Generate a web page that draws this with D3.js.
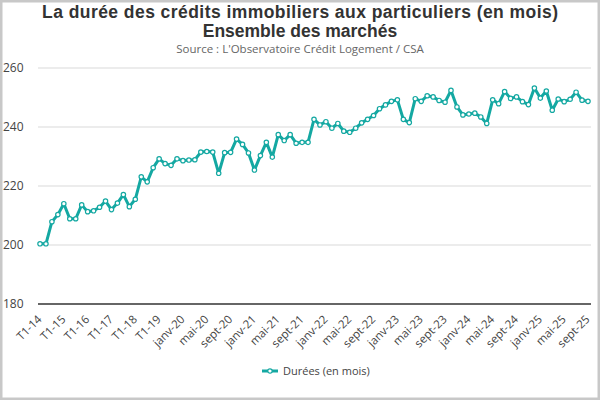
<!DOCTYPE html>
<html>
<head>
<meta charset="utf-8">
<script src="https://cdn.jsdelivr.net/npm/d3@7"></script>
<style>
  body { margin: 0; background: #fff; }
  svg { display: block; font-family: "Open Sans", "Noto Sans", sans-serif; }
</style>
</head>
<body>
<div id="chart"></div>
<script>
// Quarterly points 2014-2019, then monthly from janv-20
const quarters = [];
["14", "15", "16", "17", "18", "19"].forEach(y => {
    for (let q = 1; q <= 4; q++) quarters.push("T" + q + "-" + y);
});
const monthNames = ["janv", "févr", "mars", "avr", "mai", "juin", "juil", "août", "sept", "oct", "nov", "déc"];
const months = [];
["20", "21", "22", "23", "24", "25"].forEach(y => {
    monthNames.forEach((m, i) => {
        if (y === "25" && i > 8) return;
        months.push(m + "-" + y);
    });
});
const categories = quarters.concat(months);

const durees = [
    200.4, 200.4, 207.9, 210.3, 214.0, 208.9, 208.9, 213.6, 211.3, 211.6,
    212.8, 214.9, 212.0, 214.2, 217.1, 213.0, 215.5, 223.1, 221.4, 226.2,
    229.2, 227.6, 227.0, 229.2, 228.6, 228.8, 228.9, 231.5, 231.7, 231.5,
    224.3, 231.3, 231.4, 235.9, 234.1, 231.2, 225.4, 230.3, 234.8, 229.8,
    237.4, 235.4, 237.4, 234.5, 234.8, 234.8, 242.6, 240.7, 241.8, 239.6,
    241.2, 238.6, 238.2, 239.6, 241.4, 242.6, 243.9, 246.2, 247.5, 248.7,
    249.2, 242.6, 241.5, 249.6, 248.7, 250.6, 250.2, 249.0, 248.4, 252.4,
    246.8, 244.1, 244.4, 244.7, 243.4, 241.2, 249.2, 247.9, 252.0, 249.7,
    250.2, 248.6, 247.6, 253.2, 249.8, 252.2, 245.7, 249.5, 248.6, 249.4,
    251.8, 249.1, 248.7
];
const yTicks = [180, 200, 220, 240, 260];
const seriesName = "Durées (en mois)";

const data = categories.map((c, i) => ({ cat: c, value: durees[i] }));

const W = 600, H = 400;
const color = "#14a8a2";

const svg = d3.select("#chart")
    .append("svg")
    .attr("width", W)
    .attr("height", H);

// frame
svg.append("rect")
    .attr("x", 1).attr("y", 1)
    .attr("width", W - 2).attr("height", H - 2)
    .attr("fill", "#fff")
    .attr("stroke", "#c8c8c8")
    .attr("stroke-width", 3);

// Titles (compact metrics so the two lines sit close without colliding)
svg.append("text")
    .attr("x", 300).attr("y", 17.5)
    .attr("text-anchor", "middle")
    .attr("font-family", "Liberation Sans, Arial, sans-serif")
    .attr("font-size", 17.5).attr("font-weight", "bold")
    .attr("fill", "#333")
    .attr("textLength", 516)
    .attr("lengthAdjust", "spacing")
    .text("La durée des crédits immobiliers aux particuliers (en mois)");
svg.append("text")
    .attr("x", 300).attr("y", 37)
    .attr("text-anchor", "middle")
    .attr("font-family", "Liberation Sans, Arial, sans-serif")
    .attr("font-size", 17.5).attr("font-weight", "bold")
    .attr("fill", "#333")
    .text("Ensemble des marchés");
svg.append("text")
    .attr("x", 300).attr("y", 53)
    .attr("text-anchor", "middle")
    .attr("font-size", 11.5)
    .attr("fill", "#666")
    .text("Source : L'Observatoire Crédit Logement / CSA");

// Scales
const x = d3.scalePoint()
    .domain(categories)
    .range([40, 588]);

const y = d3.scaleLinear()
    .domain([180, 260])
    .range([304, 68]);

const left = 38, right = 591;

// Gridlines
svg.append("g")
    .selectAll("line")
    .data(yTicks.filter(t => t !== 180))
    .enter()
    .append("line")
    .attr("x1", left).attr("x2", right)
    .attr("y1", d => y(d)).attr("y2", d => y(d))
    .attr("stroke", "#d9d9d9")
    .attr("stroke-width", 1);

// Y axis labels
const yAxis = svg.append("g")
    .attr("transform", "translate(" + left + ",0)")
    .call(d3.axisLeft(y).tickValues(yTicks).tickSize(0).tickPadding(0));
yAxis.select(".domain").remove();
yAxis.selectAll("text")
    .attr("x", -35)
    .attr("text-anchor", "start")
    .attr("font-size", 12)
    .attr("font-family", "Open Sans, sans-serif")
    .attr("fill", "#444");

// X axis
const xAxis = svg.append("g")
    .attr("transform", "translate(0," + y(180) + ")")
    .call(d3.axisBottom(x)
        .tickValues(categories.filter((c, i) => i % 4 === 0))
        .tickSize(0)
        .tickPadding(0));
xAxis.select(".domain")
    .attr("d", "M" + left + ",0H" + right)
    .attr("stroke", "#333")
    .attr("stroke-width", 1.3);
xAxis.selectAll("text")
    .attr("font-size", 11.5)
    .attr("font-family", "Open Sans, sans-serif")
    .attr("fill", "#444")
    .attr("text-anchor", "end")
    .attr("dy", 0)
    .attr("transform", "translate(2,16) rotate(-45)");

// Line
const line = d3.line()
    .x(d => x(d.cat))
    .y(d => y(d.value));

svg.append("path")
    .datum(data)
    .attr("fill", "none")
    .attr("stroke", color)
    .attr("stroke-width", 3)
    .attr("stroke-linejoin", "round")
    .attr("d", line);

svg.append("g")
    .selectAll("circle")
    .data(data)
    .enter()
    .append("circle")
    .attr("cx", d => x(d.cat))
    .attr("cy", d => y(d.value))
    .attr("r", 2.2)
    .attr("fill", "#fff")
    .attr("stroke", color)
    .attr("stroke-width", 1.2);

// Legend
const lg = svg.append("g").attr("transform", "translate(262,371)");
lg.append("line")
    .attr("x1", 0).attr("x2", 16)
    .attr("stroke", color).attr("stroke-width", 3);
lg.append("circle")
    .attr("cx", 8).attr("cy", 0).attr("r", 2.2)
    .attr("fill", "#fff").attr("stroke", color).attr("stroke-width", 1.2);
lg.append("text")
    .attr("x", 21).attr("y", 4)
    .attr("font-size", 11)
    .attr("fill", "#444")
    .text(seriesName);
</script>
</body>
</html>
